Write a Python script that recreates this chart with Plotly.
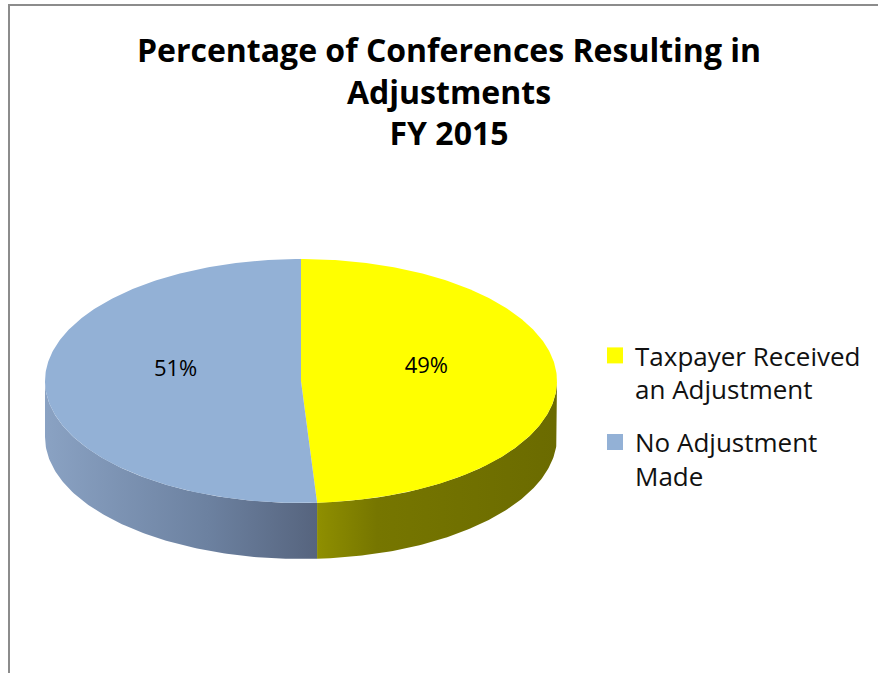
import numpy as np
import plotly.graph_objects as go

# ---- data ----
categories = ["Taxpayer Received<br>an Adjustment", "No Adjustment<br>Made"]
values = [49, 51]
top_colors = ["#ffff00", "#93b1d6"]
wall_scales = [
    [[0, "#8f8f00"], [0.25, "#767600"], [1, "#6b6b00"]],
    [[0, "#8aa2c3"], [0.6, "#6c81a0"], [1, "#56647e"]],
]
title_text = "Percentage of Conferences Resulting in<br>Adjustments<br>FY 2015"

# ---- geometry (style) ----
W, H = 878, 673
cx, cy, rx, ry, depth = 301, 381, 256, 122, 56
FONT = "Open Sans"

fig = go.Figure()

total = float(sum(values))
start = 90.0
slices = []
for v in values:
    span = v / total * 360.0
    slices.append((start - span, start))
    start -= span

def ex(t):
    return cx + rx * np.cos(np.radians(t))

def ey(t, d=0.0):
    return cy - ry * np.sin(np.radians(t)) + d

# side walls (front half: angles between -180 and 0)
for i, (a0, a1) in enumerate(slices):
    vis_lo = max(a0, -180.0)
    vis_hi = min(a1, 0.0)
    if vis_hi > vis_lo:
        t = np.linspace(vis_lo, vis_hi, 120)
        xs = list(ex(t)) + list(ex(t[::-1]))
        ys = list(ey(t)) + list(ey(t[::-1], depth))
        fig.add_trace(go.Scatter(
            x=xs + [xs[0]], y=ys + [ys[0]], mode="lines", fill="toself",
            line=dict(width=0), fillgradient=dict(type="horizontal", colorscale=wall_scales[i]),
            showlegend=False, hoverinfo="skip"))

# top faces
for i, (a0, a1) in enumerate(slices):
    t = np.linspace(a1, a0, 300)
    xs = [cx] + list(ex(t)) + [cx]
    ys = [cy] + list(ey(t)) + [cy]
    fig.add_trace(go.Scatter(
        x=xs, y=ys, mode="lines", fill="toself", fillcolor=top_colors[i],
        line=dict(width=0), showlegend=False, hoverinfo="skip"))

# data labels
lx, ly, lt = [], [], []
for (a0, a1), v in zip(slices, values):
    mid = (a0 + a1) / 2.0
    lx.append(cx + 0.49 * rx * np.cos(np.radians(mid)))
    ly.append(cy - 0.49 * ry * np.sin(np.radians(mid)) - 12)
    lt.append(f"{round(v / total * 100)}%")
fig.add_trace(go.Scatter(
    x=lx, y=ly, mode="text", text=lt,
    textfont=dict(family=FONT, size=22, color="#000000"),
    showlegend=False, hoverinfo="skip"))

# legend entries
for k, (name, col) in enumerate(zip(categories, top_colors)):
    fig.add_trace(go.Scatter(
        x=[None], y=[None], mode="markers", name=name, legendgroup=f"g{k}",
        marker=dict(symbol="square", size=16, color=col)))

fig.update_layout(
    width=W, height=H,
    margin=dict(l=0, r=0, t=0, b=0),
    paper_bgcolor="white", plot_bgcolor="white",
    title=dict(text=title_text, x=449 / W, xanchor="center", y=1 - 62 / H, yanchor="top",
               font=dict(family=FONT, size=32, color="#000000", weight="bold")),
    xaxis=dict(range=[0, W], visible=False, fixedrange=True),
    yaxis=dict(range=[H, 0], visible=False, fixedrange=True),
    legend=dict(x=595 / W, y=1 - 332 / H, xanchor="left", yanchor="top",
                font=dict(family=FONT, size=26, color="#111111"),
                traceorder="grouped", tracegroupgap=16, valign="top", itemwidth=30,
                bgcolor="rgba(0,0,0,0)"),
    shapes=[dict(type="rect", xref="paper", yref="paper",
                 x0=9 / W, x1=1.05, y0=-0.05, y1=1 - 5 / H,
                 line=dict(color="#8c8c8c", width=2))],
    showlegend=True,
)

fig.write_html("out.html", config={"displayModeBar": False},
               post_script="document.body.style.margin='0';")
